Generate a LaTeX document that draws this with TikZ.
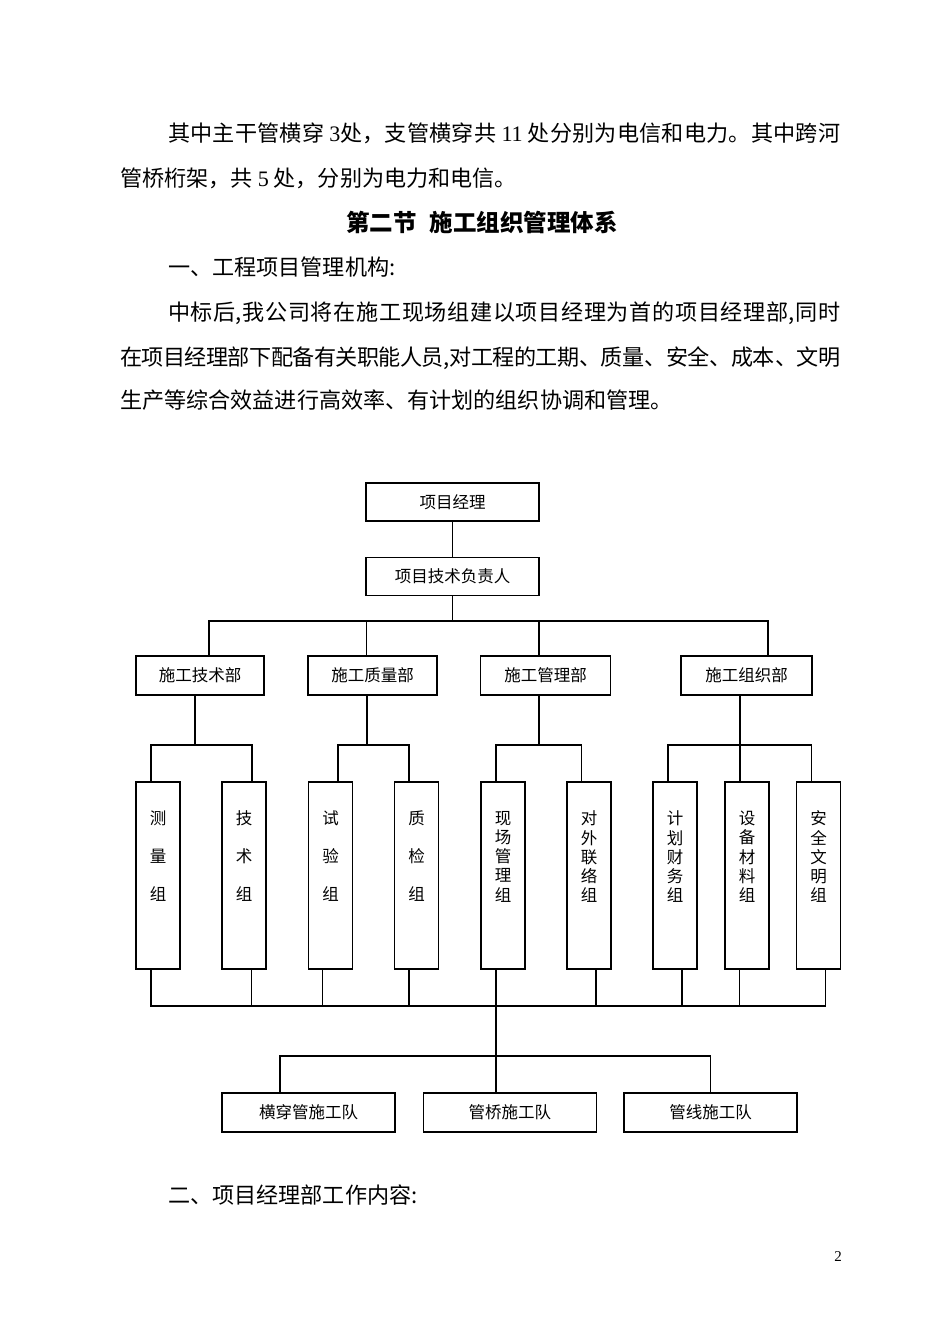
\documentclass[tikz,border=0pt]{standalone}
\usepackage{fontspec}
\setmainfont{Noto Sans CJK SC}
\newfontfamily\lat{Liberation Serif}
\XeTeXlinebreaklocale "zh"
\XeTeXlinebreakskip=0pt plus 4pt minus 0.6pt
\newcommand\vcol[2]{\vbox to 187pt{\hsize=44pt\parindent=0pt\vskip 29pt\baselineskip=#2\lineskiplimit=-50pt\centering\leavevmode #1\par\vfill}}
\newcommand\jline[2]{\vbox{\hsize=#1\parindent=0pt\parfillskip=0pt\tolerance=9999\leavevmode #2\par}}
\begin{document}
\begin{tikzpicture}[x=1pt,y=-1pt,
  body/.style={anchor=base west, inner sep=0pt, font=\fontsize{22.1}{22.1}\selectfont},
  box/.style={draw, line width=1.2pt, inner sep=0pt, font=\fontsize{16.5}{16.5}\selectfont},
  topbox/.style={box, minimum width=173pt, minimum height=38pt},
  dept/.style={box, minimum width=#1, minimum height=39pt},
  sub/.style={box, minimum width=44pt, minimum height=187pt},
  team/.style={box, minimum width=173pt, minimum height=39pt},
  conn/.style={line width=1.2pt}]
\fill[white] (0,0) rectangle (950,1344);
\useasboundingbox (0,0) rectangle (950,1344);

% body text
\node[body] (l1) at (168,141.3) {\jline{672pt}{其中主干管横穿 {\lat 3}处，支管横穿共 {\lat 11} 处分别为电信和电力。其中跨河}};
\node[body] (l2) at (120,186.3) {管桥桁架，共 {\lat 5} 处，分别为电力和电信。};
\node[anchor=base, inner sep=0pt, font=\fontsize{23.5}{23.5}\selectfont\bfseries] (hd) at (482,231) {第二节\hspace{13pt}施工组织管理体系};
\node[body] (l3) at (168,275.3) {一、工程项目管理机构:};
\node[body] (l4) at (168,320) {\jline{672pt}{中标后,我公司将在施工现场组建以项目经理为首的项目经理部,同时}};
\node[body] (l5) at (120,365) {\jline{720pt}{在项目经理部下配备有关职能人员,对工程的工期、质量、安全、成本、文明}};
\node[body] (l6) at (120,408.8) {生产等综合效益进行高效率、有计划的组织协调和管理。};
\node[body] (l7) at (168,1203.8) {二、项目经理部工作内容:};
\node[anchor=base, inner sep=0pt, font=\lat\fontsize{15}{15}\selectfont] (pg) at (838,1261.5) {2};

% chart boxes
\node[topbox] (pm) at (452.5,502) {项目经理};
\node[topbox] (tl) at (452.5,576.5) {项目技术负责人};
\node[dept=128pt] (d1) at (200,675.5) {施工技术部};
\node[dept=129pt] (d2) at (372.5,675.5) {施工质量部};
\node[dept=130pt] (d3) at (545.5,675.5) {施工管理部};
\node[dept=131pt] (d4) at (746.5,675.5) {施工组织部};

\node[sub] (g1) at (158,875.5) {\vcol{测\\量\\组}{38pt}};
\node[sub] (g2) at (244,875.5) {\vcol{技\\术\\组}{38pt}};
\node[sub] (g3) at (330.5,875.5) {\vcol{试\\验\\组}{38pt}};
\node[sub] (g4) at (416.5,875.5) {\vcol{质\\检\\组}{38pt}};
\node[sub] (g5) at (503,875.5) {\vcol{现\\场\\管\\理\\组}{19.25pt}};
\node[sub] (g6) at (589,875.5) {\vcol{对\\外\\联\\络\\组}{19.25pt}};
\node[sub] (g7) at (675,875.5) {\vcol{计\\划\\财\\务\\组}{19.25pt}};
\node[sub] (g8) at (747,875.5) {\vcol{设\\备\\材\\料\\组}{19.25pt}};
\node[sub] (g9) at (818.5,875.5) {\vcol{安\\全\\文\\明\\组}{19.25pt}};

\node[team] (t1) at (308.5,1112.5) {横穿管施工队};
\node[team] (t2) at (509.75,1112.5) {管桥施工队};
\node[team] (t3) at (710.5,1112.5) {管线施工队};

% junction coordinates
\coordinate (j0) at (452.5,621);
\coordinate (j1) at (209,621);
\coordinate (j2) at (366.5,621);
\coordinate (j3) at (539,621);
\coordinate (j4) at (768,621);

\coordinate (k1) at (195,745);   \coordinate (k1a) at (151,745); \coordinate (k1b) at (252,745);
\coordinate (k2) at (367,745);   \coordinate (k2a) at (338,745); \coordinate (k2b) at (409,745);
\coordinate (k3) at (539,745);   \coordinate (k3a) at (496,745); \coordinate (k3b) at (581.5,745);
\coordinate (k4) at (740,745);   \coordinate (k4a) at (668,745); \coordinate (k4b) at (811.5,745);

\coordinate (m1) at (151,1006);
\coordinate (m2) at (251.6,1006);
\coordinate (m3) at (322.7,1006);
\coordinate (m4) at (409,1006);
\coordinate (m5) at (496,1006);
\coordinate (m6) at (596,1006);
\coordinate (m7) at (682,1006);
\coordinate (m8) at (739.7,1006);
\coordinate (m9) at (825.5,1006);

\coordinate (na) at (280,1056);
\coordinate (nb) at (710.5,1056);

% connectors
\draw[conn] (pm) -- (tl);
\draw[conn] (tl) -- (j0);
\draw[conn] (d1.north -| j1) -- (j1) -- (j4) -- (d4.north -| j4);
\draw[conn] (d2.north -| j2) -- (j2);
\draw[conn] (d3.north -| j3) -- (j3);

\draw[conn] (d1.south -| k1) -- (k1);
\draw[conn] (g1.north -| k1a) -- (k1a) -- (k1b) -- (g2.north -| k1b);
\draw[conn] (d2.south -| k2) -- (k2);
\draw[conn] (g3.north -| k2a) -- (k2a) -- (k2b) -- (g4.north -| k2b);
\draw[conn] (d3.south -| k3) -- (k3);
\draw[conn] (g5.north -| k3a) -- (k3a) -- (k3b) -- (g6.north -| k3b);
\draw[conn] (d4.south -| k4) -- (g8.north -| k4);
\draw[conn] (g7.north -| k4a) -- (k4a) -- (k4b) -- (g9.north -| k4b);

\draw[conn] (g1.south -| m1) -- (m1) -- (m9) -- (g9.south -| m9);
\draw[conn] (g2.south -| m2) -- (m2);
\draw[conn] (g3.south -| m3) -- (m3);
\draw[conn] (g4.south -| m4) -- (m4);
\draw[conn] (g5.south -| m5) -- (t2.north -| m5);
\draw[conn] (g6.south -| m6) -- (m6);
\draw[conn] (g7.south -| m7) -- (m7);
\draw[conn] (g8.south -| m8) -- (m8);

\draw[conn] (t1.north -| na) -- (na) -- (nb) -- (t3.north);
\end{tikzpicture}
\end{document}
